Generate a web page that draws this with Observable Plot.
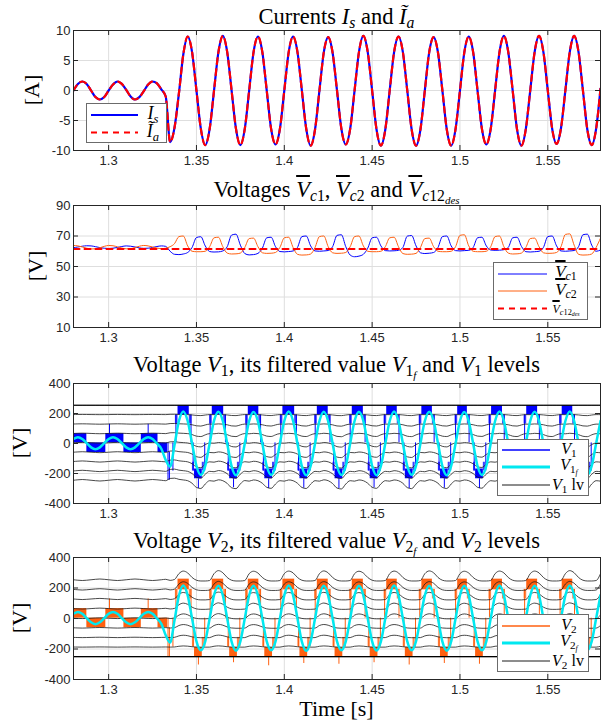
<!DOCTYPE html>
<html><head><meta charset="utf-8">
<script src="https://cdn.jsdelivr.net/npm/d3@7"></script>
<script src="https://cdn.jsdelivr.net/npm/@observablehq/plot@0.6"></script>
<style>
body{margin:0;background:#fff;}
#wrap{position:relative;width:610px;height:723px;overflow:hidden;font-family:"Liberation Serif","Times New Roman",serif;color:#000;}
#wrap svg.plot{position:absolute;left:0;}
.title{position:absolute;left:73px;width:527px;text-align:center;font-size:22.5px;line-height:22px;white-space:nowrap;}
.xlab{position:absolute;left:73px;width:527px;text-align:center;font-size:22px;line-height:22px;}
.ylab{position:absolute;width:60px;height:24px;line-height:24px;text-align:center;font-size:22px;transform:rotate(-90deg);}
sub{font-size:70%;vertical-align:-0.28em;line-height:0;}
sub sub{font-size:70%;vertical-align:-0.25em;}
.ov{text-decoration:overline;text-decoration-thickness:1.6px;}
.legend{position:absolute;background:#fff;border:1px solid #6b6b6b;}
.legend svg{position:absolute;left:0;top:0;}
.lt{position:absolute;white-space:nowrap;text-align:center;line-height:14px;}
</style></head>
<body><div id="wrap"></div>
<script>
// ---------------- data ----------------
const xTicks = [1.3, 1.35, 1.4, 1.45, 1.5, 1.55];
const yTicks1 = [-10, -5, 0, 5, 10];
const yTicks2 = [10, 30, 50, 70, 90];
const yTicks3 = [-400, -200, 0, 200, 400];

// sample instants [s]
const T = [1.28,1.2825,1.285,1.2875,1.29,1.2925,1.295,1.2975,1.3,1.3025,1.305,1.3075,1.31,1.3125,1.315,1.3175,1.32,1.3225,1.325,1.3275,1.33,1.3325,1.335,1.3375,1.34,1.3425,1.345,1.3475,1.35,1.3525,1.355,1.3575,1.36,1.3625,1.365,1.3675,1.37,1.3725,1.375,1.3775,1.38,1.3825,1.385,1.3875,1.39,1.3925,1.395,1.3975,1.4,1.4025,1.405,1.4075,1.41,1.4125,1.415,1.4175,1.42,1.4225,1.425,1.4275,1.43,1.4325,1.435,1.4375,1.44,1.4425,1.445,1.4475,1.45,1.4525,1.455,1.4575,1.46,1.4625,1.465,1.4675,1.47,1.4725,1.475,1.4775,1.48,1.4825,1.485,1.4875,1.49,1.4925,1.495,1.4975,1.5,1.5025,1.505,1.5075,1.51,1.5125,1.515,1.5175,1.52,1.5225,1.525,1.5275,1.53,1.5325,1.535,1.5375,1.54,1.5425,1.545,1.5475,1.55,1.5525,1.555,1.5575,1.56,1.5625,1.565,1.5675,1.57,1.5725,1.575,1.5775,1.58];

// Currents [A]
const isVals = [0,1.1,1.5,1.1,0,-1.1,-1.5,-1.1,0,1.0,1.5,1.1,0.1,-1.0,-1.5,-1.1,-0.1,1.0,1.5,1.2,0.2,-1.0,
 -8.6,-6.2,-0.5,6.0,
 9.0,6.4,0,-6.4,-9.1,-6.4,0,6.4,
 9.1,6.4,0,-6.4,-9.1,-6.4,0,6.4,
 9.0,6.4,0,-6.4,-9.0,-6.4,0,6.4,
 9.0,6.4,0,-6.4,-9.2,-6.5,0,6.4,
 8.9,6.3,0,-6.4,-9.0,-6.4,0,6.4,
 9.1,6.4,0,-6.5,-9.2,-6.5,0,6.4,
 9.0,6.4,0,-6.5,-9.2,-6.5,0,6.4,
 8.9,6.3,0,-6.5,-9.2,-6.4,0,6.4,
 9.0,6.4,0,-6.4,-9.0,-6.4,0,6.4,
 9.1,6.4,0,-6.5,-9.2,-6.4,0,6.4,
 9.1,6.4,0,-6.4,-8.9,-6.3,0,6.4,
 9.1,6.4,0,-6.5,-9.1,-6.4,0.3];
const iaVals = isVals; // the filtered current lies on top of Is in the picture

// Capacitor voltages [V]
const vc1Vals = [62.3,62.8,63.3,63.6,63.5,63.0,62.4,62.0,61.8,62.0,62.5,63.1,63.5,63.3,62.8,62.2,61.9,62.0,62.5,63.1,63.5,63.2,
 60.0,58.0,57.8,58.2,59.2,
 62.5,69.0,69.5,63.5,59.8,59.5,59.6,60.2,
 63.0,70.6,71.2,64.0,58.5,57.6,57.8,58.6,
 62.0,68.8,69.2,63.0,59.8,59.6,59.8,60.2,
 62.5,69.6,70.0,63.5,60.2,60.0,60.2,60.5,
 63.0,70.4,70.8,63.0,57.5,56.4,56.8,58.0,
 62.0,68.8,69.2,63.5,60.4,60.2,60.3,60.6,
 62.5,69.9,70.3,63.5,59.0,58.5,58.7,59.2,
 62.5,69.6,70.0,63.5,60.4,60.2,60.4,60.6,
 62.5,68.8,69.2,63.5,60.8,60.6,60.7,61.0,
 62.5,68.8,69.2,63.2,59.7,59.5,59.7,60.0,
 62.5,69.6,70.0,63.5,60.2,60.0,60.2,60.5,
 63.0,70.8,71.2,64.0,60.0,60.8];
const vc2Vals = [63.8,63.5,62.8,62.0,61.5,61.6,62.3,63.2,63.8,63.6,62.9,62.1,61.6,61.7,62.4,63.3,63.8,63.5,62.8,62.1,61.7,62.0,
 63.0,65.0,
 69.6,70.0,63.5,60.0,59.7,59.7,60.0,63.0,
 68.8,69.2,63.0,58.8,58.2,58.3,58.8,62.5,
 68.3,68.6,63.0,59.0,58.6,58.7,59.2,62.5,
 68.8,69.2,62.5,58.0,57.5,57.6,58.2,62.5,
 69.6,70.0,63.0,59.0,58.6,58.7,59.2,63.0,
 69.6,70.0,63.5,60.0,59.7,59.7,60.0,63.0,
 68.8,69.2,63.0,58.5,58.0,58.1,58.6,62.5,
 68.3,68.6,63.0,60.0,59.7,59.7,60.0,63.0,
 70.4,70.8,63.5,60.0,59.7,59.7,60.0,63.0,
 69.6,70.0,63.0,58.8,58.2,58.3,58.8,62.5,
 68.3,68.6,63.0,59.0,58.6,58.7,59.2,63.0,
 71.0,71.4,64.0,58.0,57.5,57.6,58.2,62.5,
 68.6];
const vcDesT = [1.28, 1.58];
const vcDesVals = [61.4, 61.4];

// Filtered voltages [V]
const v1fVals = [30,42,30,2,-26,-38,-26,2,30,42,30,2,-26,-38,-26,2,30,42,30,0,-35,-110,
 -155,-10,150,
 214,150,0,-150,-210,-150,0,152,
 212,150,0,-152,-212,-150,0,150,
 210,148,0,-150,-210,-150,0,150,
 213,150,0,-152,-212,-150,0,150,
 212,148,0,-150,-210,-150,0,150,
 211,150,0,-150,-211,-150,0,150,
 214,150,0,-150,-209,-148,0,150,
 212,150,0,-152,-212,-150,0,150,
 210,148,0,-150,-210,-150,0,150,
 213,150,0,-150,-211,-150,0,150,
 212,150,0,-150,-210,-150,0,150,
 214,150,0,-150,-209,-150,0,150];
const v2fVals = [32,43,31,3,-25,-37,-25,3,31,43,31,3,-25,-37,-25,3,31,43,31,0,-35,-110,
 -158,-12,150,
 216,152,0,-150,-209,-150,0,153,
 215,152,0,-152,-211,-150,0,152,
 214,150,0,-150,-209,-150,0,152,
 216,152,0,-152,-212,-150,0,152,
 215,150,0,-150,-209,-150,0,152,
 214,152,0,-150,-210,-150,0,152,
 216,152,0,-150,-208,-148,0,152,
 215,152,0,-152,-211,-150,0,152,
 214,150,0,-150,-209,-150,0,152,
 216,152,0,-150,-210,-150,0,152,
 215,152,0,-150,-209,-150,0,152,
 216,152,0,-150,-208,-150,0,152];

// Level lines: base values, share of the outer line's swing, swing of the outer line
const lv1Base = [255, 193, 130, 67, 5, -58, -120, -183, -245];
const lv1Share = [0, 0.125, 0.25, 0.375, 0.5, 0.625, 0.75, 0.875, 1];
const lv1Swing = [0,3,5,3,0,-3,-5,-3,0,3,5,3,0,-3,-5,-3,0,3,5,3,0,-3,
 12,14,6,
 2,-3,-20,-48,-55,-25,-3,-6,
 3,-3,-21,-50,-56,-24,-2,-6,
 2,-3,-20,-47,-54,-25,-3,-6,
 2,-3,-20,-48,-55,-26,-3,-6,
 3,-3,-22,-52,-58,-25,-3,-6,
 2,-3,-20,-47,-54,-24,-3,-6,
 2,-3,-20,-49,-56,-25,-3,-6,
 3,-3,-20,-48,-55,-25,-3,-6,
 2,-3,-20,-47,-53,-24,-3,-6,
 2,-3,-20,-48,-55,-25,-3,-6,
 2,-3,-20,-48,-55,-25,-3,-6,
 3,-3,-21,-50,-57,-25,-3,-6];
const lv2Base = [-250, -187, -124, -61, 2, 65, 128, 191, 254];
const lv2Share = [0, 0.125, 0.25, 0.375, 0.5, 0.625, 0.75, 0.875, 1];
const lv2Swing = [0,-3,-5,-3,0,3,5,3,0,-3,-5,-3,0,3,5,3,0,-3,-5,-3,0,3,
 -4,2,40,
 57,45,15,-3,-8,-8,-5,40,
 60,46,15,-3,-8,-8,-5,40,
 56,44,15,-3,-8,-8,-5,40,
 57,45,15,-3,-8,-8,-5,40,
 58,45,15,-3,-8,-8,-5,40,
 56,44,15,-3,-8,-8,-5,40,
 57,45,15,-3,-8,-8,-5,40,
 58,46,15,-3,-8,-8,-5,40,
 56,44,15,-3,-8,-8,-5,40,
 57,45,15,-3,-8,-8,-5,40,
 57,45,15,-3,-8,-8,-5,40,
 60,46,15,-3,-8,-8,-5,40];

// Dense PWM stretches of V1 / V2 (start, end, low level, high level)
const v1BlkT1 = [1.28,1.2876,1.2984,1.3087,1.3186,1.3281, 1.3395,1.359,1.3795,1.3992,1.4188,1.4387,1.4583,1.4783,1.4987,1.518,1.538,1.5582, 1.3489,1.3689,1.3889,1.4089,1.4289,1.4489,1.4689,1.4889,1.5089,1.5289,1.5489,1.5689];
const v1BlkT2 = [1.2876,1.2984,1.3087,1.3186,1.3281,1.3335, 1.3459,1.3655,1.3855,1.4059,1.425,1.445,1.4643,1.4843,1.5042,1.5242,1.5442,1.5642, 1.3533,1.3733,1.3933,1.4133,1.4333,1.4533,1.4733,1.4933,1.5133,1.5333,1.5533,1.5733];
const v1BlkLo = [4,-60,4,-60,4,-60, 190,190,190,190,190,190,190,190,190,190,190,190, -235,-235,-235,-235,-235,-235,-235,-235,-235,-235,-235,-235];
const v1BlkHi = [66,4,66,4,66,4, 252,252,252,252,252,252,252,252,252,252,252,252, -170,-170,-170,-170,-170,-170,-170,-170,-170,-170,-170,-170];
// shorter switching stretches on the next level, beside the peak and trough stretches
const stepT1 = [1.338,1.3575,1.378,1.3977,1.4173,1.4372,1.4568,1.4768,1.4972,1.5165,1.5365,1.5567,
 1.3459,1.3655,1.3855,1.4059,1.425,1.445,1.4643,1.4843,1.5042,1.5242,1.5442,1.5642,
 1.3477,1.3677,1.3877,1.4077,1.4277,1.4477,1.4677,1.4877,1.5077,1.5277,1.5477,1.5677,
 1.3533,1.3733,1.3933,1.4133,1.4333,1.4533,1.4733,1.4933,1.5133,1.5333,1.5533,1.5733];
const stepT2 = [1.3395,1.359,1.3795,1.3992,1.4188,1.4387,1.4583,1.4783,1.4987,1.518,1.538,1.5582,
 1.3474,1.367,1.387,1.4074,1.4265,1.4465,1.4658,1.4858,1.5057,1.5257,1.5457,1.5657,
 1.3489,1.3689,1.3889,1.4089,1.4289,1.4489,1.4689,1.4889,1.5089,1.5289,1.5489,1.5689,
 1.3545,1.3745,1.3945,1.4145,1.4345,1.4545,1.4745,1.4945,1.5145,1.5345,1.5545,1.5745];
const v1StepLo = [130,130,130,130,130,130,130,130,130,130,130,130, 130,130,130,130,130,130,130,130,130,130,130,130,
 -183,-183,-183,-183,-183,-183,-183,-183,-183,-183,-183,-183, -183,-183,-183,-183,-183,-183,-183,-183,-183,-183,-183,-183];
const v1StepHi = [190,190,190,190,190,190,190,190,190,190,190,190, 190,190,190,190,190,190,190,190,190,190,190,190,
 -125,-125,-125,-125,-125,-125,-125,-125,-125,-125,-125,-125, -125,-125,-125,-125,-125,-125,-125,-125,-125,-125,-125,-125];
// single switching edges of V1 (time, low, high)
const v1EdgeT = [1.3005,1.3225,1.3338,1.3346,1.3366,
 1.3383,1.3578,1.3783,1.398,1.4176,1.4375,1.4571,1.4771,1.4975,1.5168,1.5368,1.557,
 1.3469,1.3665,1.3865,1.4069,1.426,1.446,1.4653,1.4853,1.5052,1.5252,1.5452,1.5652,
 1.3481,1.3681,1.3881,1.4081,1.4281,1.4481,1.4681,1.4881,1.5081,1.5281,1.5481,1.5681,
 1.3547,1.3747,1.3947,1.4147,1.4347,1.4547,1.4747,1.4947,1.5147,1.5347,1.5547,1.5747,
 1.3511,1.3711,1.3911,1.4111,1.4311,1.4511,1.4711,1.4911,1.5111,1.5311,1.5511,1.5711];
const v1EdgeLo = [66,66,-245,-245,-184,
 4,4,4,4,4,4,4,4,4,4,4,4,
 4,4,4,4,4,4,4,4,4,4,4,4,
 -184,-184,-184,-184,-184,-184,-184,-184,-184,-184,-184,-184,
 -184,-184,-184,-184,-184,-184,-184,-184,-184,-184,-184,-184,
 -300,-295,-300,-298,-300,-296,-300,-298,-300,-296,-300,-298];
const v1EdgeHi = [128,128,4,-58,4,
 190,190,190,190,190,190,190,190,190,190,190,190,
 190,190,190,190,190,190,190,190,190,190,190,190,
 4,4,4,4,4,4,4,4,4,4,4,4,
 4,4,4,4,4,4,4,4,4,4,4,4,
 -235,-235,-235,-235,-235,-235,-235,-235,-235,-235,-235,-235];
const v2BlkT1 = v1BlkT1, v2BlkT2 = v1BlkT2;
const v2BlkLo = [2,-61,2,-61,2,-61, 188,188,188,188,188,188,188,188,188,188,188,188, -250,-250,-250,-250,-250,-250,-250,-250,-250,-250,-250,-250];
const v2BlkHi = [65,2,65,2,65,2, 258,258,258,258,258,258,258,258,258,258,258,258, -190,-190,-190,-190,-190,-190,-190,-190,-190,-190,-190,-190];
const v2StepLo = [128,128,128,128,128,128,128,128,128,128,128,128, 128,128,128,128,128,128,128,128,128,128,128,128,
 -187,-187,-187,-187,-187,-187,-187,-187,-187,-187,-187,-187, -187,-187,-187,-187,-187,-187,-187,-187,-187,-187,-187,-187];
const v2StepHi = [191,191,191,191,191,191,191,191,191,191,191,191, 191,191,191,191,191,191,191,191,191,191,191,191,
 -124,-124,-124,-124,-124,-124,-124,-124,-124,-124,-124,-124, -124,-124,-124,-124,-124,-124,-124,-124,-124,-124,-124,-124];
const v2EdgeT = v1EdgeT;
const v2EdgeLo = [65,65,-250,-250,-187,
 2,2,2,2,2,2,2,2,2,2,2,2,
 2,2,2,2,2,2,2,2,2,2,2,2,
 -187,-187,-187,-187,-187,-187,-187,-187,-187,-187,-187,-187,
 -187,-187,-187,-187,-187,-187,-187,-187,-187,-187,-187,-187,
 -305,-290,-310,-295,-300,-290,-305,-295,-300,-290,-305,-295];
const v2EdgeHi = [128,128,2,-61,2,
 190,190,190,190,190,190,190,190,190,190,190,190,
 190,190,190,190,190,190,190,190,190,190,190,190,
 2,2,2,2,2,2,2,2,2,2,2,2,
 2,2,2,2,2,2,2,2,2,2,2,2,
 -250,-250,-250,-250,-250,-250,-250,-250,-250,-250,-250,-250];

// ---------------- build ----------------
const rows = T.map((t, i) => ({t, is: isVals[i], ia: iaVals[i], vc1: vc1Vals[i], vc2: vc2Vals[i], v1f: v1fVals[i], v2f: v2fVals[i]}));
const des = vcDesT.map((t, i) => ({t, v: vcDesVals[i]}));
function levelRows(base, share, swing) {
  const out = [];
  base.forEach((b, k) => T.forEach((t, i) => out.push({t, v: b + share[k] * swing[i], k})));
  return out;
}
const lv1 = levelRows(lv1Base, lv1Share, lv1Swing);
const lv2 = levelRows(lv2Base, lv2Share, lv2Swing);
const rectRows = (a1, a2, lo, hi) => a1.map((t, i) => ({t1: t, t2: a2[i], lo: lo[i], hi: hi[i]}));
const blk1 = rectRows(v1BlkT1, v1BlkT2, v1BlkLo, v1BlkHi);
const blk2 = rectRows(v2BlkT1, v2BlkT2, v2BlkLo, v2BlkHi);
const stp1 = rectRows(stepT1, stepT2, v1StepLo, v1StepHi);
const stp2 = rectRows(stepT1, stepT2, v2StepLo, v2StepHi);
const edg1 = v1EdgeT.map((t, i) => ({t, lo: v1EdgeLo[i], hi: v1EdgeHi[i]}));
const edg2 = v2EdgeT.map((t, i) => ({t, lo: v2EdgeLo[i], hi: v2EdgeHi[i]}));

const wrap = document.getElementById("wrap");
const ML = 73, MR = 10, W = 610, PW = W - ML - MR;
const BLUE = "#0000ff", RED = "#ff0000", ORANGE = "#ff6010", CYAN = "#00e8f0", AX = "#262626", GRID = "#dedede", LV = "#1a1a1a";

function panel(top, plotH, yDomain, yTicks, marks) {
  const mt = 10, mb = 30;
  const svg = Plot.plot({
    width: W, height: plotH + mt + mb,
    marginTop: mt, marginBottom: mb, marginLeft: ML, marginRight: MR,
    x: {domain: [1.28, 1.58]},
    y: {domain: yDomain},
    style: {fontFamily: "'Liberation Sans', Arial, sans-serif", fontSize: "13px", color: AX, background: "transparent", overflow: "visible"},
    marks: [
      Plot.gridX(xTicks, {stroke: GRID, strokeOpacity: 1}),
      Plot.gridY(yTicks, {stroke: GRID, strokeOpacity: 1}),
      ...marks,
      Plot.tickX(xTicks, {x: d => d, insetTop: plotH - 5, stroke: AX}),
      Plot.tickX(xTicks, {x: d => d, insetBottom: plotH - 5, stroke: AX}),
      Plot.tickY(yTicks, {y: d => d, insetRight: PW - 5, stroke: AX}),
      Plot.tickY(yTicks, {y: d => d, insetLeft: PW - 5, stroke: AX}),
      Plot.axisX(xTicks, {tickSize: 0, tickPadding: 5, label: null, tickFormat: d => String(d), fill: AX}),
      Plot.axisY(yTicks, {tickSize: 0, tickPadding: 3, label: null, tickFormat: d => String(d), fill: AX}),
      Plot.frame({stroke: AX})
    ]
  });
  svg.classList.add("plot");
  svg.style.top = (top - mt) + "px";
  wrap.appendChild(svg);
}

// Panel 1: currents
panel(30, 120, [-10, 10], yTicks1, [
  Plot.line(rows, {x: "t", y: "is", stroke: BLUE, strokeWidth: 2.2, curve: "monotone-x", clip: true}),
  Plot.line(rows, {x: "t", y: "ia", stroke: RED, strokeWidth: 2.2, strokeDasharray: "6,5", curve: "monotone-x", clip: true})
]);
// Panel 2: capacitor voltages
panel(205, 122, [10, 90], yTicks2, [
  Plot.line(rows, {x: "t", y: "vc1", stroke: BLUE, strokeWidth: 1, curve: "monotone-x", clip: true}),
  Plot.line(rows, {x: "t", y: "vc2", stroke: ORANGE, strokeWidth: 1, curve: "monotone-x", clip: true}),
  Plot.line(des, {x: "t", y: "v", stroke: RED, strokeWidth: 2, strokeDasharray: "6,5", clip: true})
]);
// Panel 3: V1
panel(383, 120, [-400, 400], yTicks3, [
  Plot.rect(stp1, {x1: "t1", x2: "t2", y1: "lo", y2: "hi", fill: BLUE, fillOpacity: 0.75, clip: true}),
  Plot.rect(blk1, {x1: "t1", x2: "t2", y1: "lo", y2: "hi", fill: BLUE, clip: true}),
  Plot.ruleX(edg1, {x: "t", y1: "lo", y2: "hi", stroke: BLUE, strokeWidth: 1, clip: true}),
  Plot.line(lv1, {x: "t", y: "v", z: "k", stroke: LV, strokeWidth: 0.8, curve: "monotone-x", clip: true}),
  Plot.line(lv1.filter(d => d.k === 0), {x: "t", y: "v", stroke: "#000", strokeWidth: 1.2, clip: true}),
  Plot.line(rows, {x: "t", y: "v1f", stroke: CYAN, strokeWidth: 2.5, curve: "monotone-x", clip: true})
]);
// Panel 4: V2
panel(557, 122, [-400, 400], yTicks3, [
  Plot.rect(stp2, {x1: "t1", x2: "t2", y1: "lo", y2: "hi", fill: ORANGE, fillOpacity: 0.75, clip: true}),
  Plot.rect(blk2, {x1: "t1", x2: "t2", y1: "lo", y2: "hi", fill: ORANGE, clip: true}),
  Plot.ruleX(edg2, {x: "t", y1: "lo", y2: "hi", stroke: ORANGE, strokeWidth: 1, clip: true}),
  Plot.line(lv2, {x: "t", y: "v", z: "k", stroke: LV, strokeWidth: 0.8, curve: "monotone-x", clip: true}),
  Plot.line(lv2.filter(d => d.k === 0), {x: "t", y: "v", stroke: "#000", strokeWidth: 1.2, clip: true}),
  Plot.line(rows, {x: "t", y: "v2f", stroke: CYAN, strokeWidth: 2.5, curve: "monotone-x", clip: true})
]);

// ---------------- texts ----------------
function add(html) { const d = document.createElement("div"); d.innerHTML = html; wrap.appendChild(d.firstElementChild); }
add(`<div class="title" style="top:6px">Currents <i>I</i><sub><i>s</i></sub> and <i>Ĩ</i><sub><i>a</i></sub></div>`);
add(`<div class="title" style="top:179px">Voltages <span class="ov"><i>V</i></span><sub><i>c</i>1</sub>, <span class="ov"><i>V</i></span><sub><i>c</i>2</sub> and <span class="ov"><i>V</i></span><sub><i>c</i>12<sub><i>des</i></sub></sub></div>`);
add(`<div class="title" style="top:354px">Voltage <i>V</i><sub>1</sub>, its filtered value <i>V</i><sub>1<sub><i>f</i></sub></sub> and <i>V</i><sub>1</sub> levels</div>`);
add(`<div class="title" style="top:530px">Voltage <i>V</i><sub>2</sub>, its filtered value <i>V</i><sub>2<sub><i>f</i></sub></sub> and <i>V</i><sub>2</sub> levels</div>`);
add(`<div class="xlab" style="top:698px">Time [s]</div>`);
add(`<div class="ylab" style="left:2px;top:78px">[A]</div>`);
add(`<div class="ylab" style="left:6px;top:254px">[V]</div>`);
add(`<div class="ylab" style="left:-10px;top:431px">[V]</div>`);
add(`<div class="ylab" style="left:-10px;top:606px">[V]</div>`);

// legends
add(`<div class="legend" style="left:86px;top:103px;width:79px;height:38px">
 <svg width="79" height="38"><line x1="4" x2="51" y1="11" y2="11" stroke="${BLUE}" stroke-width="2.2"/><line x1="4" x2="51" y1="28.5" y2="28.5" stroke="${RED}" stroke-width="2.2" stroke-dasharray="6,5"/></svg>
 <div class="lt" style="left:53px;width:26px;top:2px;font-size:18px"><i>I</i><sub><i>s</i></sub></div>
 <div class="lt" style="left:53px;width:26px;top:20px;font-size:18px"><i>Ĩ</i><sub><i>a</i></sub></div></div>`);
add(`<div class="legend" style="left:493px;top:262px;width:93px;height:56px">
 <svg width="93" height="56"><line x1="4" x2="53" y1="11" y2="11" stroke="${BLUE}" stroke-width="1"/><line x1="4" x2="53" y1="28" y2="28" stroke="${ORANGE}" stroke-width="1"/><line x1="4" x2="53" y1="45.5" y2="45.5" stroke="${RED}" stroke-width="2" stroke-dasharray="6,5"/></svg>
 <div class="lt" style="left:53px;width:38px;top:2px;font-size:17px"><span class="ov"><i>V</i></span><sub><i>c</i>1</sub></div>
 <div class="lt" style="left:53px;width:38px;top:20px;font-size:17px"><span class="ov"><i>V</i></span><sub><i>c</i>2</sub></div>
 <div class="lt" style="left:53px;width:38px;top:39px;font-size:12px"><span class="ov"><i>V</i></span><sub><i>c</i>12<sub><i>des</i></sub></sub></div></div>`);
add(`<div class="legend" style="left:497px;top:439px;width:90px;height:55px">
 <svg width="90" height="55"><line x1="4" x2="52" y1="10" y2="10" stroke="${BLUE}" stroke-width="1.5"/><line x1="4" x2="52" y1="27" y2="27" stroke="${CYAN}" stroke-width="3"/><line x1="4" x2="52" y1="45" y2="45" stroke="${LV}" stroke-width="1"/></svg>
 <div class="lt" style="left:50px;width:42px;top:2px;font-size:16px"><i>V</i><sub>1</sub></div>
 <div class="lt" style="left:50px;width:42px;top:18px;font-size:16px"><i>V</i><sub>1<sub><i>f</i></sub></sub></div>
 <div class="lt" style="left:48px;width:44px;top:38px;font-size:16px"><i>V</i><sub>1</sub> lv</div></div>`);
add(`<div class="legend" style="left:497px;top:614px;width:90px;height:56px">
 <svg width="90" height="56"><line x1="4" x2="52" y1="11" y2="11" stroke="${ORANGE}" stroke-width="1.5"/><line x1="4" x2="52" y1="28" y2="28" stroke="${CYAN}" stroke-width="3"/><line x1="4" x2="52" y1="46" y2="46" stroke="${LV}" stroke-width="1"/></svg>
 <div class="lt" style="left:50px;width:42px;top:3px;font-size:16px"><i>V</i><sub>2</sub></div>
 <div class="lt" style="left:50px;width:42px;top:19px;font-size:16px"><i>V</i><sub>2<sub><i>f</i></sub></sub></div>
 <div class="lt" style="left:48px;width:44px;top:39px;font-size:16px"><i>V</i><sub>2</sub> lv</div></div>`);
</script></body></html>
